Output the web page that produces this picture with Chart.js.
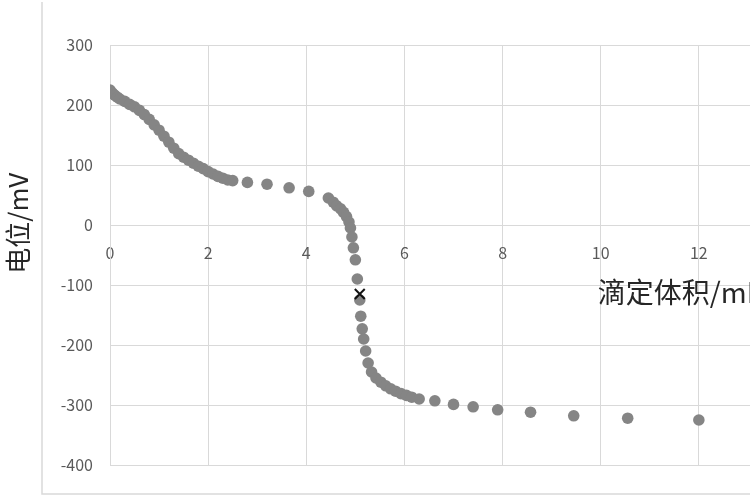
<!DOCTYPE html>
<html>
<head>
<meta charset="utf-8">
<script src="https://cdn.jsdelivr.net/npm/chart.js@4.4.1/dist/chart.umd.min.js"></script>
<style>
  html, body { margin: 0; padding: 0; background: #fff; overflow: hidden; }
  #wrap { position: relative; width: 815px; height: 500px; }
</style>
</head>
<body>
<div id="wrap"><canvas id="chart"></canvas></div>
<script>
// titration volume (mL) and potential (mV)
const volume = [
    0, 0.05, 0.1, 0.15, 0.2, 0.3, 0.4, 0.5, 0.6, 0.7, 0.8, 0.9, 1.0, 1.1, 1.2, 1.3,
    1.4, 1.5, 1.6, 1.7, 1.8, 1.9, 2.0, 2.1, 2.2, 2.3, 2.4, 2.5,
    2.8, 3.2, 3.65, 4.05, 4.45, 4.55, 4.62, 4.7, 4.76, 4.82, 4.87, 4.9, 4.93, 4.96,
    5.0, 5.04, 5.09, 5.11, 5.14, 5.17, 5.21, 5.26, 5.33, 5.42, 5.52, 5.62, 5.72,
    5.82, 5.93, 6.04, 6.15, 6.3, 6.62, 7.0, 7.4, 7.9, 8.57, 9.45, 10.55, 12.0
];
const potential = [
    225, 220, 216, 213, 210, 206, 201, 197, 191, 184, 176, 167, 158, 148, 138, 128,
    119, 113, 108, 103, 98, 94, 89, 85, 81, 78, 75, 74,
    71, 68, 62, 56, 45, 38, 32, 27, 21, 14, 5, -5, -20, -38,
    -58, -90, -125, -152, -173, -190, -210, -230, -245, -255, -262, -268, -273,
    -277, -281, -284, -287, -290, -293, -299, -303, -308, -312, -318, -322, -325
];
// equivalence point marker
const eqVolume = [5.09];
const eqPotential = [-115];

const xTicks = [0, 2, 4, 6, 8, 10, 12, 14];
const yTicks = [300, 200, 100, 0, -100, -200, -300, -400];
const xTitle = "滴定体积/mL";
const yTitle = "电位/mV";

const gridColor = "#d9d9d9";
const tickFont = { family: "'Noto Sans CJK SC', 'Noto Sans', sans-serif", size: 16 };

// outer frame + axis titles (placed like the Excel original)
const decor = {
    id: "decor",
    beforeDraw(chart) {
        const { ctx, chartArea } = chart;
        ctx.save();
        ctx.strokeStyle = gridColor;
        ctx.lineWidth = 1.5;
        ctx.beginPath();
        ctx.moveTo(chartArea.left - 68, 2);
        ctx.lineTo(chartArea.left - 68, chartArea.bottom + 29);
        ctx.lineTo(chart.width, chartArea.bottom + 29);
        ctx.stroke();
        ctx.restore();
    },
    afterDraw(chart) {
        const { ctx, scales } = chart;
        ctx.save();
        ctx.fillStyle = "#262626";
        ctx.font = "28px 'Noto Sans CJK SC', sans-serif";
        ctx.textBaseline = "middle";
        ctx.textAlign = "left";
        ctx.fillText(xTitle, scales.x.getPixelForValue(9.94), scales.y.getPixelForValue(-113));

        ctx.translate(18, scales.y.getPixelForValue(3));
        ctx.rotate(-Math.PI / 2);
        ctx.textAlign = "center";
        ctx.font = "26px 'Noto Sans CJK SC', sans-serif";
        ctx.fillText(yTitle, 0, 0);
        ctx.restore();
    }
};

new Chart(document.getElementById("chart"), {
    type: "scatter",
    data: {
        datasets: [
            {
                label: "eq",
                data: eqVolume.map((v, i) => ({ x: v, y: eqPotential[i] })),
                pointStyle: "crossRot",
                pointRadius: 7,
                borderColor: "#111",
                borderWidth: 2,
                backgroundColor: "#111"
            },
            {
                label: "potential",
                data: volume.map((v, i) => ({ x: v, y: potential[i] })),
                pointRadius: 5.8,
                borderWidth: 0,
                backgroundColor: "#858585"
            }
        ]
    },
    options: {
        responsive: true,
        maintainAspectRatio: false,
        animation: false,
        layout: { padding: { left: 0, top: 45, bottom: 35, right: 3 } },
        plugins: { legend: { display: false }, tooltip: { enabled: false } },
        scales: {
            x: {
                type: "linear",
                position: { y: 0 },
                min: 0,
                max: 14,
                afterBuildTicks: s => { s.ticks = xTicks.map(v => ({ value: v })); },
                grid: { color: gridColor, drawTicks: false },
                border: { color: gridColor },
                ticks: { color: "#595959", font: tickFont, padding: 18, maxRotation: 0,
                         callback: v => v === 14 ? "" : v }
            },
            y: {
                type: "linear",
                position: "left",
                min: -400,
                max: 300,
                afterBuildTicks: s => { s.ticks = yTicks.map(v => ({ value: v })); },
                afterFit: s => { s.width = 110; },
                grid: { color: gridColor, drawTicks: false },
                border: { color: gridColor },
                ticks: { color: "#595959", font: tickFont, padding: 17 }
            }
        }
    },
    plugins: [decor]
});
</script>
</body>
</html>
